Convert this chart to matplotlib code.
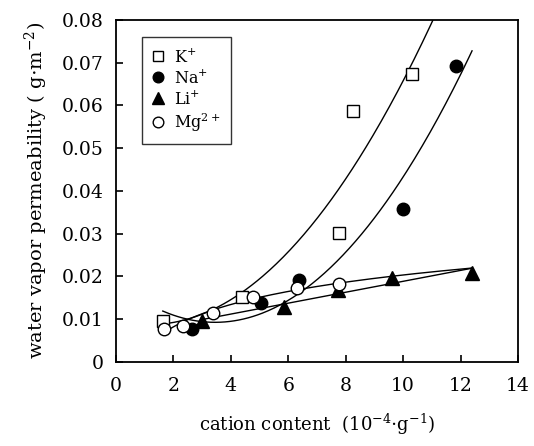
import matplotlib

matplotlib.use("Agg")
import matplotlib.pyplot as plt
import numpy as np

k_x = [1.65, 4.38, 7.77, 8.27, 10.3]
k_y = [0.0095, 0.0152, 0.0302, 0.0587, 0.0673]
na_x = [2.66, 5.04, 6.39, 9.99, 11.85]
na_y = [0.0076, 0.0137, 0.0191, 0.0357, 0.0693]
li_x = [2.98, 5.85, 7.74, 9.6, 12.39]
li_y = [0.0095, 0.0129, 0.0168, 0.0195, 0.0208]
mg_x = [1.67, 2.32, 3.37, 4.76, 6.30, 7.75]
mg_y = [0.0076, 0.0084, 0.0115, 0.0152, 0.0173, 0.0181]

# x-span of each trend line
k_span = [1.65, 11.2]
na_span = [1.63, 12.4]
li_span = [2.98, 12.4]
mg_span = [1.65, 12.4]

x_ticks = [0, 2, 4, 6, 8, 10, 12, 14]
y_ticks = [0, 0.01, 0.02, 0.03, 0.04, 0.05, 0.06, 0.07, 0.08]
y_labels = ["0", "0.01", "0.02", "0.03", "0.04", "0.05", "0.06", "0.07", "0.08"]

plt.rcParams.update({"font.family": "DejaVu Serif", "mathtext.fontset": "dejavuserif",
                     "axes.linewidth": 1.3})
fig = plt.figure(figsize=(5.34, 4.46), dpi=100)
ax = fig.add_axes([0.2172, 0.189, 0.7528, 0.766])


# trend lines (Excel-style fits)
def trend(xs, ys, span, kind):
    t = np.linspace(span[0], span[1], 200)
    if kind == "poly2":
        c = np.polyfit(xs, ys, 2)
        return t, np.polyval(c, t)
    if kind == "log":
        c = np.polyfit(np.log(xs), ys, 1)
        return t, np.polyval(c, np.log(t))
    c = np.polyfit(xs, ys, 1)
    return t, np.polyval(c, t)


for xs, ys, span, kind in [(k_x, k_y, k_span, "poly2"), (na_x, na_y, na_span, "poly2"),
                           (li_x, li_y, li_span, "lin"), (mg_x, mg_y, mg_span, "log")]:
    tx, ty = trend(xs, ys, span, kind)
    ax.plot(tx, ty, color="black", lw=1.0, zorder=2)

ms = 9
ax.plot(k_x, k_y, ls="none", marker="s", ms=ms, mfc="white", mec="black", mew=1.0,
        label="K$^{+}$", zorder=3)
ax.plot(na_x, na_y, ls="none", marker="o", ms=ms, mfc="black", mec="black",
        label="Na$^{+}$", zorder=3)
ax.plot(li_x, li_y, ls="none", marker="^", ms=ms + 1, mfc="black", mec="black",
        label="Li$^{+}$", zorder=3)
ax.plot(mg_x, mg_y, ls="none", marker="o", ms=ms, mfc="white", mec="black", mew=1.0,
        label="Mg$^{2+}$", zorder=3)

ax.set_xlim(0, 14)
ax.set_ylim(0, 0.08)
ax.set_xticks(x_ticks)
ax.set_yticks(y_ticks)
ax.set_yticklabels(y_labels)
ax.tick_params(direction="in", length=5, width=1.2, labelsize=13.5, pad=9)
ax.tick_params(axis="x", pad=11)

ax.set_xlabel("cation content  (10$^{-4}$$\\cdot$g$^{-1}$)", fontsize=13, labelpad=12)
ax.set_ylabel("water vapor permeability ( g$\\cdot$m$^{-2}$)", fontsize=14, labelpad=8)

leg = ax.legend(loc="upper left", bbox_to_anchor=(0.064, 0.95), borderaxespad=0,
                fontsize=11.5, frameon=True, fancybox=False, edgecolor="black",
                handlelength=0.8, handletextpad=0.6, borderpad=0.65, labelspacing=0.2,
                markerscale=0.85)
leg.get_frame().set_linewidth(1.0)

fig.savefig("out.png", dpi=100, facecolor="white")
